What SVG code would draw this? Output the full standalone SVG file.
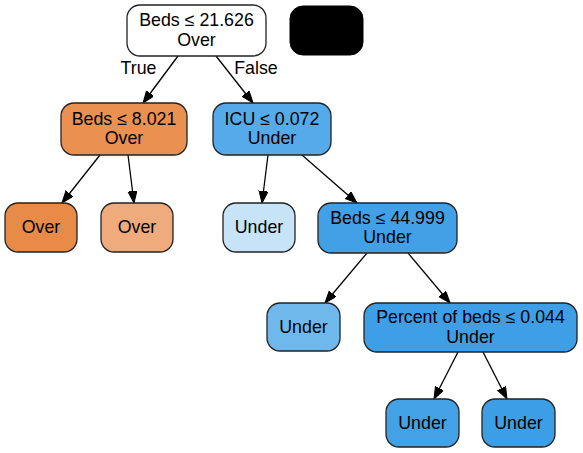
<svg xmlns="http://www.w3.org/2000/svg" width="583" height="453" viewBox="0 0 583 453">
<defs>
<style>
.n{stroke:#222;stroke-width:1.3}
text{font-family:"Liberation Sans",Arial,sans-serif;font-size:17.8px;fill:#000;text-anchor:middle}
.e{stroke:#000;stroke-width:1.3;fill:none;marker-end:url(#a)}
</style>
<marker id="a" markerUnits="userSpaceOnUse" markerWidth="13" markerHeight="10" refX="12" refY="4.5" orient="auto" viewBox="0 0 13 10">
<path d="M0,0 L12,4.5 L0,9 z" fill="#000" stroke="#000" stroke-width="1"/>
</marker>
</defs>
<rect width="583" height="453" fill="#fff"/>
<g id="edges">
<path class="e" d="M178,56 L143,103"/>
<path class="e" d="M216,56 L253,103"/>
<path class="e" d="M100,155 L62,203"/>
<path class="e" d="M128,155 L134,203"/>
<path class="e" d="M268,155 L262,203"/>
<path class="e" d="M302,155 L357,203"/>
<path class="e" d="M367,253 L325,303"/>
<path class="e" d="M408,253 L450,303"/>
<path class="e" d="M458,352 L434,399"/>
<path class="e" d="M483,352 L507,399"/>
<text x="138.5" y="74">True</text>
<text x="256" y="74">False</text>
</g>
<g id="n0"><rect class="n" x="127" y="5" width="139" height="51" rx="13" fill="#ffffff"/><text x="196.5" y="26">Beds ≤ 21.626</text><text x="196.5" y="45.5">Over</text></g>
<g id="legend"><rect x="290" y="6" width="73" height="49" rx="13" fill="#000" stroke="#000"/></g>
<g id="n1"><rect class="n" x="61" y="103" width="126" height="52" rx="13" fill="#ea9152"/><text x="124" y="124.5">Beds ≤ 8.021</text><text x="124" y="144">Over</text></g>
<g id="n2"><rect class="n" x="213" y="103" width="118" height="52" rx="13" fill="#55abe9"/><text x="272" y="124.5">ICU ≤ 0.072</text><text x="272" y="144">Under</text></g>
<g id="n3"><rect class="n" x="5" y="203" width="72" height="49" rx="13" fill="#e88b48"/><text x="41" y="233">Over</text></g>
<g id="n4"><rect class="n" x="101" y="203" width="72" height="49" rx="13" fill="#efab7b"/><text x="137" y="233">Over</text></g>
<g id="n5"><rect class="n" x="223" y="203" width="72" height="49" rx="13" fill="#c6e3f8"/><text x="259" y="233">Under</text></g>
<g id="n6"><rect class="n" x="318" y="203" width="139" height="50" rx="13" fill="#42a1e6"/><text x="387.5" y="223.5">Beds ≤ 44.999</text><text x="387.5" y="243">Under</text></g>
<g id="n7"><rect class="n" x="267" y="303" width="73" height="48" rx="13" fill="#6fb8ec"/><text x="303.5" y="333">Under</text></g>
<g id="n8"><rect class="n" x="364" y="303" width="213" height="49" rx="13" fill="#3e9fe6"/><text x="470.5" y="323">Percent of beds ≤ 0.044</text><text x="470.5" y="342.5">Under</text></g>
<g id="n9"><rect class="n" x="386" y="399" width="73" height="48" rx="13" fill="#43a2e6"/><text x="422.5" y="429">Under</text></g>
<g id="n10"><rect class="n" x="482" y="399" width="73" height="48" rx="13" fill="#3c9fe5"/><text x="518.5" y="429">Under</text></g>
</svg>
